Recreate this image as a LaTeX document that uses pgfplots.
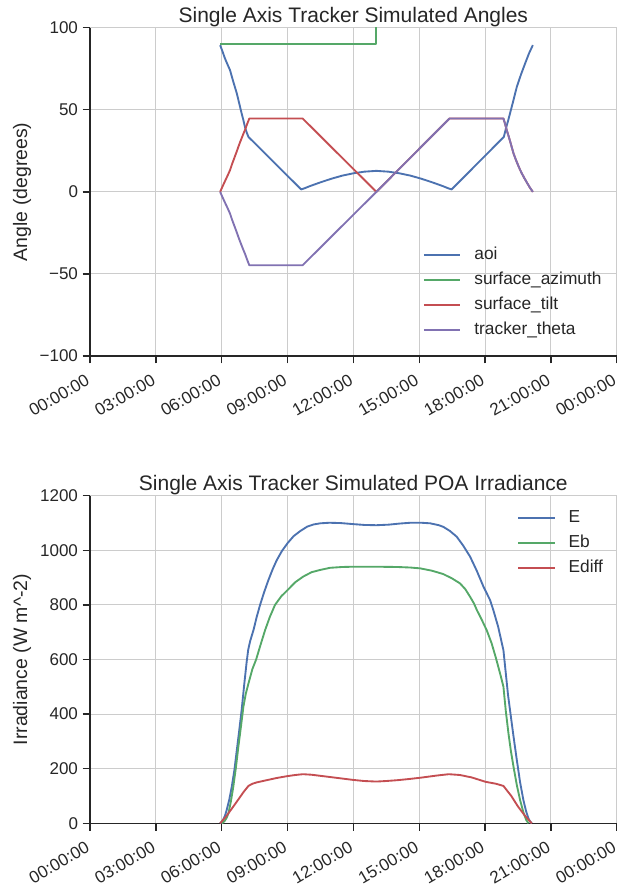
\documentclass[border=0pt]{standalone}
\usepackage{fontspec}
\setmainfont{Liberation Sans}
\usepackage{pgfplots}
\pgfplotsset{compat=1.18}

\definecolor{sblue}{HTML}{4C72B0}
\definecolor{sgreen}{HTML}{55A868}
\definecolor{sred}{HTML}{C44E52}
\definecolor{spurple}{HTML}{8172B2}
\definecolor{axisgray}{HTML}{262626}
\definecolor{gridgray}{HTML}{CCCCCC}

\newcommand{\ticksize}{\fontsize{12.75}{15}\selectfont}
\newcommand{\labelsize}{\fontsize{14.6}{17}\selectfont}
\newcommand{\titlesize}{\fontsize{15.75}{18}\selectfont}
\newcommand{\legsize}{\fontsize{13}{15}\selectfont}

\pgfplotsset{
  trackerax/.style={
    scale only axis,
    width=395pt,
    xmin=0, xmax=24,
    enlargelimits=false,
    axis x line=bottom, axis y line=left,
    axis line style={-, draw=axisgray, line width=1pt},
    tick align=outside,
    major tick length=5.5pt,
    every tick/.style={draw=axisgray, line width=1pt},
    grid=major,
    major grid style={draw=gridgray, line width=0.75pt},
    xtick={0,3,...,24},
    xticklabels={00:00:00,03:00:00,06:00:00,09:00:00,12:00:00,15:00:00,18:00:00,21:00:00,00:00:00},
    xticklabel style={xshift=-3.5pt, yshift=-6pt, rotate=30, anchor=north east,
      font=\ticksize, text=axisgray, inner sep=1pt},
    yticklabel style={font=\ticksize, text=axisgray},
    /pgf/number format/assume math mode=true,
    every axis title shift=0pt,
    title style={font=\titlesize, text=axisgray, at={(0.5,1)}, anchor=base, yshift=4pt},
    ylabel style={font=\labelsize, text=axisgray, at={(axis description cs:-0.1468,0.5)},
      anchor=north, inner sep=0pt},
    legend style={draw=none, fill=none, inner sep=0pt, outer sep=0pt,
      font=\legsize, text=axisgray, row sep=0pt, column sep=9.75pt,
      nodes={inner sep=0pt, text height=12.5pt, text depth=6.25pt}},
    legend cell align=left,
    legend image code/.code={\draw[##1] (0pt,0pt) -- (27.5pt,0pt);},
    every axis plot/.append style={line width=1.4pt, line join=round},
  }
}

\begin{document}
\begin{tikzpicture}
\path[use as bounding box] (0,0) rectangle (468pt,664.5pt);

% top: tracker angles
\begin{axis}[trackerax,
  at={(67.5pt,397.5pt)}, anchor=south west,
  height=246.2pt,
  ymin=-100, ymax=100,
  ytick={-100,-50,0,50,100},
  yticklabels={−100,−50,0,50,100},
  title={Single Axis Tracker Simulated Angles},
  ylabel={Angle (degrees)},
  legend style={at={(0.632,0.3457)}, anchor=north west},
]
\addplot[sblue] coordinates {
(5.93,89.4) (6.04,85.5) (6.15,81.3) (6.27,77.5) (6.38,74.2) (6.53,67.1) (6.69,60)
(6.80,53.9) (6.91,47.8) (6.99,43.7) (7.06,39.6) (7.14,36.2) (7.22,33.5)
(9.62,1.5) (9.8,2.3) (10.0,3.4) (10.5,5.8) (11.0,8.0) (11.5,9.9) (12.0,11.3) (12.5,12.3)
(13.05,12.8) (13.6,12.3) (14.1,11.3) (14.6,9.9) (15.1,8.0) (15.6,5.8)
(16.1,3.4) (16.3,2.3) (16.48,1.5) (18.86,33.5) (18.95,38.5) (19.05,43.2) (19.14,47.8)
(19.3,56) (19.45,64) (19.64,71.5) (19.83,78.3) (20.0,84.2) (20.18,89.4)
};
\addlegendentry{aoi}
\addplot[sgreen] coordinates {
(5.93,90) (13.05,90) (13.05,270) (20.18,270)
};
\addlegendentry{surface\_azimuth}
\addplot[sred] coordinates {
(5.93,0) (6.04,3.3) (6.15,6.5) (6.27,9.9) (6.38,13.2) (6.47,16.8) (6.57,20.4) (6.67,24)
(6.76,27.4) (6.84,30.3) (6.92,33) (6.99,35.4) (7.06,37.6) (7.16,41.3) (7.26,44.7)
(9.69,44.7) (13.05,0) (16.38,44.7) (18.84,44.7) (18.92,41.2) (18.99,37.6) (19.07,34.2)
(19.14,31) (19.22,27.2) (19.3,23.4) (19.4,19.8) (19.5,16.5) (19.59,13.7) (19.68,11.2)
(19.8,8.2) (19.93,5.2) (20.05,2.5) (20.18,0)
};
\addlegendentry{surface\_tilt}
\addplot[spurple] coordinates {
(5.93,0) (6.04,-3.3) (6.15,-6.5) (6.27,-9.9) (6.38,-13.2) (6.47,-16.8) (6.57,-20.4) (6.67,-24)
(6.76,-27.4) (6.84,-30.3) (6.92,-33) (6.99,-35.4) (7.06,-37.6) (7.16,-41.3) (7.26,-44.7)
(9.69,-44.7) (13.05,0) (16.38,44.7) (18.84,44.7) (18.92,41.2) (18.99,37.6) (19.07,34.2)
(19.14,31) (19.22,27.2) (19.3,23.4) (19.4,19.8) (19.5,16.5) (19.59,13.7) (19.68,11.2)
(19.8,8.2) (19.93,5.2) (20.05,2.5) (20.18,0)
};
\addlegendentry{tracker\_theta}
\end{axis}

% bottom: plane of array irradiance
\begin{axis}[trackerax,
  at={(67.5pt,47pt)}, anchor=south west,
  height=245.7pt,
  ymin=0, ymax=1200,
  ytick={0,200,...,1200},
  yticklabels={0,200,400,600,800,1000,1200},
  title={Single Axis Tracker Simulated POA Irradiance},
  ylabel={Irradiance (W m\textasciicircum-2)},
  legend style={at={(0.811,0.969)}, anchor=north west},
]
\addplot[sblue] coordinates {
(5.93,0) (6.0,5) (6.08,15) (6.16,30) (6.23,49) (6.35,88) (6.46,134) (6.58,195) (6.69,268)
(6.80,340) (6.91,415) (7.03,510) (7.14,592) (7.21,636) (7.30,668) (7.45,708)
(7.60,757) (7.75,800) (7.94,848) (8.13,891) (8.32,930) (8.51,964) (8.75,998)
(9.01,1027) (9.28,1052) (9.57,1070) (9.9,1087) (10.2,1095) (10.5,1099) (10.9,1101)
(11.4,1100) (12.0,1096) (12.5,1093) (13.05,1092) (13.6,1094) (14.1,1098) (14.6,1101)
(15.1,1101) (15.5,1099) (15.9,1092) (16.1,1086) (16.4,1071) (16.71,1050) (17.0,1018)
(17.32,977) (17.62,926) (17.93,867) (18.23,818) (18.38,781) (18.6,720) (18.84,634)
(18.96,540) (19.05,470) (19.14,415) (19.3,318) (19.45,232) (19.6,150) (19.75,85)
(19.87,45) (19.98,18) (20.06,6) (20.13,0)
};
\addlegendentry{E}
\addplot[sgreen] coordinates {
(6.0,0) (6.08,4) (6.15,10) (6.23,21) (6.31,37) (6.42,80) (6.53,134) (6.65,205) (6.76,280)
(6.88,355) (6.99,427) (7.1,475) (7.22,512) (7.40,565) (7.57,600) (7.78,656)
(7.98,708) (8.2,757) (8.43,800) (8.72,832) (9.01,855) (9.35,883) (9.72,904)
(10.1,920) (10.48,928) (10.94,936) (11.5,939) (12.0,940) (13.0,940) (14.0,939)
(14.6,937) (15.04,934) (15.6,925) (16.1,913) (16.5,897) (16.86,879) (17.1,858)
(17.32,830) (17.5,805) (17.63,781) (17.85,746) (18.08,707) (18.3,660) (18.5,605)
(18.7,545) (18.84,500) (18.95,410) (19.07,329) (19.18,265) (19.3,207) (19.45,140)
(19.6,85) (19.75,40) (19.88,12) (19.98,0)
};
\addlegendentry{Eb}
\addplot[sred] coordinates {
(5.93,0) (6.2,25) (6.5,58) (6.8,92) (7.0,115) (7.22,137) (7.4,145) (7.6,150)
(8.05,158) (8.5,166) (9.0,173) (9.35,177) (9.7,180) (10.1,178) (10.5,174)
(11.2,167) (12.0,159) (12.5,155) (13.05,153) (13.5,155) (14.0,158) (14.5,162)
(15.05,167) (15.8,175) (16.35,180) (16.86,177) (17.4,168) (18.03,152) (18.5,145)
(18.84,137) (19.2,100) (19.5,62) (19.8,30) (20.13,0)
};
\addlegendentry{Ediff}
\end{axis}
\end{tikzpicture}
\end{document}
